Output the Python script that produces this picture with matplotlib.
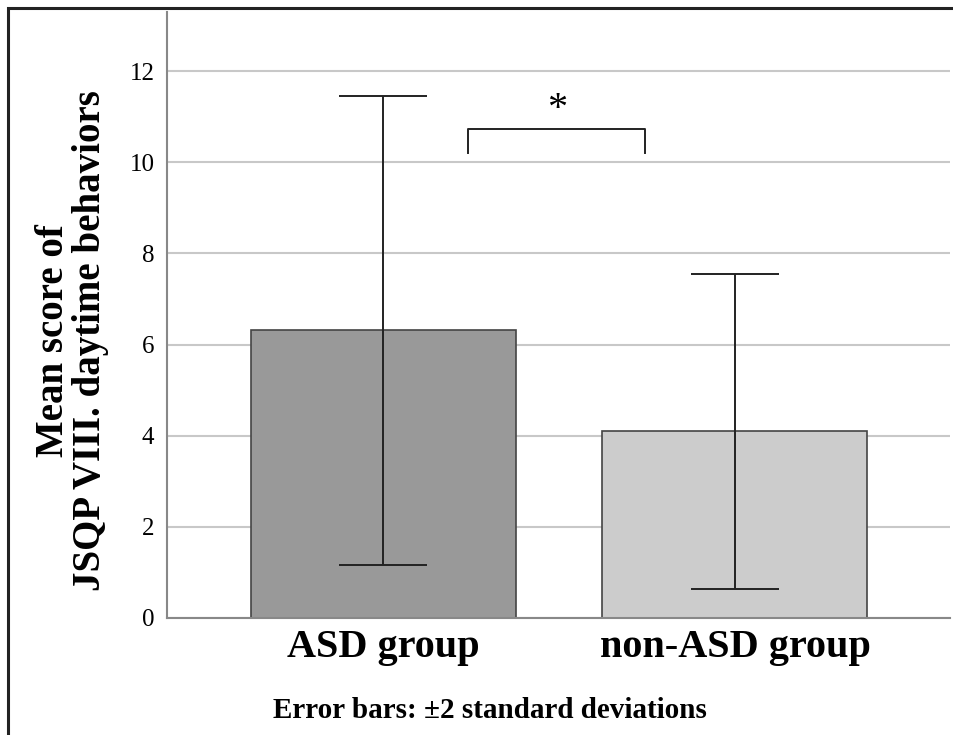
import matplotlib
matplotlib.use('Agg')
import matplotlib.pyplot as plt
import matplotlib.patches as patches

groups = ['ASD group', 'non-ASD group']
means = [6.31, 4.10]
err_2sd = [5.15, 3.46]
bar_colors = ['#999999', '#cccccc']

plt.rcParams['font.family'] = ['Liberation Serif', 'DejaVu Serif']

fig = plt.figure(figsize=(9.54, 7.35), dpi=100)
ax = fig.add_axes([167/954, 1-618/735, (950-167)/954, (618-12)/735])

x = [0, 1]
ax.bar(x, means, width=0.753, color=bar_colors, edgecolor='#444444', linewidth=1.2, zorder=2)
ax.errorbar(x, means, yerr=err_2sd, fmt='none', ecolor='#222222', elinewidth=1.4,
            capsize=31.5, capthick=1.4, zorder=3)

ax.set_xlim(-0.614, 1.611)
ax.set_ylim(0, 13.3)
ax.set_yticks([0, 2, 4, 6, 8, 10, 12])
ax.set_xticks(x)
ax.set_xticklabels(groups, fontsize=29, fontweight='bold')
ax.tick_params(axis='x', length=0, pad=8)
ax.tick_params(axis='y', length=0, pad=9, labelsize=18)
ax.grid(axis='y', color='#c8c8c8', linewidth=1.5, zorder=0)
ax.set_axisbelow(True)
for s in ['top', 'right']:
    ax.spines[s].set_visible(False)
for s in ['left', 'bottom']:
    ax.spines[s].set_color('#888888')
    ax.spines[s].set_linewidth(1.5)

# significance bracket
ax.plot([0.241, 0.241, 0.744, 0.744], [10.2, 10.73, 10.73, 10.2], color='#222222', lw=1.4, zorder=3)
ax.text(0.494, 11.15, '*', ha='center', va='center', fontsize=29)

fig.text(72/954, 1-341/735, 'Mean score of\nJSQP VIII. daytime behaviors', rotation=90,
         ha='center', va='center', multialignment='center', fontsize=28, fontweight='bold',
         linespacing=1.0)
fig.text(490/954, 1-711/735, 'Error bars: \u00b12 standard deviations', ha='center', va='center',
         fontsize=21, fontweight='bold')

fig.patches.append(patches.Rectangle((8/954, -0.1), 1.2, 1.1 - 8/735, transform=fig.transFigure,
                                     fill=False, edgecolor='#222222', linewidth=2.2))

fig.savefig('out.png', dpi=100)
